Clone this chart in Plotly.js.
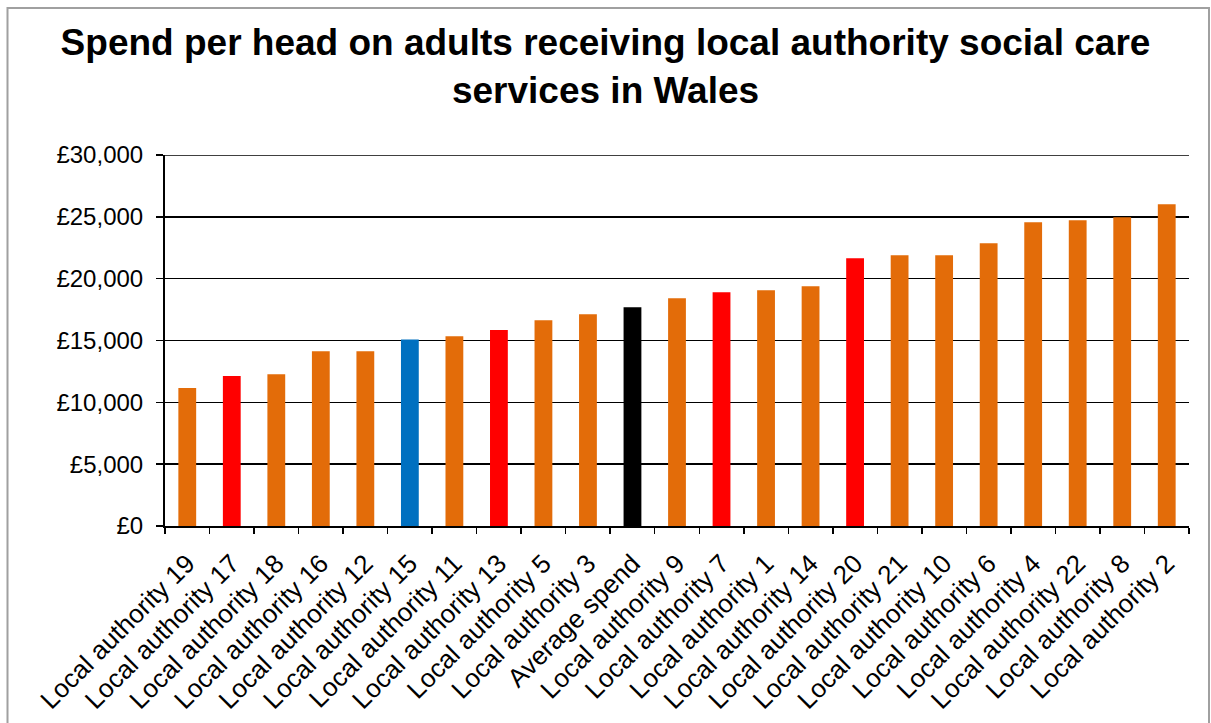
<!DOCTYPE html>
<html>
<head>
<meta charset="utf-8">
<script src="https://cdn.plot.ly/plotly-3.0.1.min.js"></script>
<style>
  html, body { margin: 0; padding: 0; background: #fff; overflow: hidden; }
  #chart { width: 1211px; height: 723px; }
</style>
</head>
<body>
<div id="chart"></div>
<script>
const categories = [
  "Local authority 19", "Local authority 17", "Local authority 18", "Local authority 16",
  "Local authority 12", "Local authority 15", "Local authority 11", "Local authority 13",
  "Local authority 5", "Local authority 3", "Average spend", "Local authority 9",
  "Local authority 7", "Local authority 1", "Local authority 14", "Local authority 20",
  "Local authority 21", "Local authority 10", "Local authority 6", "Local authority 4",
  "Local authority 22", "Local authority 8", "Local authority 2"
];
const spendPerHead = [
  11150, 12120, 12280, 14140, 14140, 15080, 15350, 15840, 16640, 17130, 17690, 18420,
  18910, 19070, 19390, 21660, 21900, 21900, 22870, 24560, 24720, 24970, 26020
];
const highlight = [
  "other", "red", "other", "other", "other", "blue", "other", "red", "other", "other",
  "average", "other", "red", "other", "other", "red", "other", "other", "other", "other",
  "other", "other", "other"
];
const yTickValues = [0, 5000, 10000, 15000, 20000, 25000, 30000];
const yTickLabels = ["£0", "£5,000", "£10,000", "£15,000", "£20,000", "£25,000", "£30,000"];

const palette = { other: "#E36C09", red: "#FF0000", blue: "#0070C0", average: "#000000" };
const font = "Liberation Sans, Arial, Helvetica, sans-serif";

const trace = {
  type: "bar",
  x: categories,
  y: spendPerHead,
  marker: { color: highlight.map(h => palette[h]) },
  hoverinfo: "x+y"
};

const L = 165, R = 22, T = 155, B = 197;
const W = 1211, H = 723;
const pw = W - L - R, ph = H - T - B;

const layout = {
  width: W, height: H,
  margin: { l: L, r: R, t: T, b: B, pad: 0 },
  paper_bgcolor: "#ffffff",
  plot_bgcolor: "#ffffff",
  bargap: 0.6,
  showlegend: false,
  font: { family: font, color: "#000000" },
  title: {
    text: "<b>Spend per head on adults receiving local authority social care<br>services in Wales</b>",
    font: { family: font, size: 37, color: "#000000" },
    x: 0.5, xref: "container", xanchor: "center",
    y: 1 - 55 / H, yref: "container", yanchor: "top"
  },
  xaxis: {
    type: "category",
    tickangle: -45,
    tickson: "boundaries",
    ticks: "outside",
    ticklen: 6,
    tickwidth: 1.5,
    tickcolor: "#000000",
    ticklabelstandoff: 10,
    showline: true,
    linecolor: "#000000",
    linewidth: 2,
    showgrid: false,
    tickfont: { family: font, size: 26, color: "#000000" },
    fixedrange: true
  },
  yaxis: {
    range: [0, 30000],
    tickmode: "array",
    tickvals: yTickValues,
    ticktext: yTickLabels,
    ticks: "outside",
    ticklen: 7,
    tickwidth: 1.5,
    tickcolor: "#000000",
    ticklabelstandoff: 8,
    showline: true,
    linecolor: "#000000",
    linewidth: 2,
    showgrid: true,
    gridcolor: "#000000",
    gridwidth: 1.5,
    zeroline: false,
    tickfont: { family: font, size: 24, color: "#000000" },
    fixedrange: true
  },
  shapes: [
    {
      type: "line", xref: "paper", yref: "y", layer: "above",
      x0: 0, x1: 1, y0: 30000, y1: 30000,
      line: { color: "#000000", width: 1.5 }
    },
    {
      type: "rect", xref: "paper", yref: "paper", layer: "below",
      x0: (7.5 - L) / pw, x1: (1209 - L) / pw,
      y0: (H - B - 760) / ph, y1: (H - B - 8) / ph,
      line: { color: "#a0a0a0", width: 2 },
      fillcolor: "rgba(0,0,0,0)"
    }
  ]
};

Plotly.newPlot("chart", [trace], layout, { displayModeBar: false, staticPlot: true });
</script>
</body>
</html>
